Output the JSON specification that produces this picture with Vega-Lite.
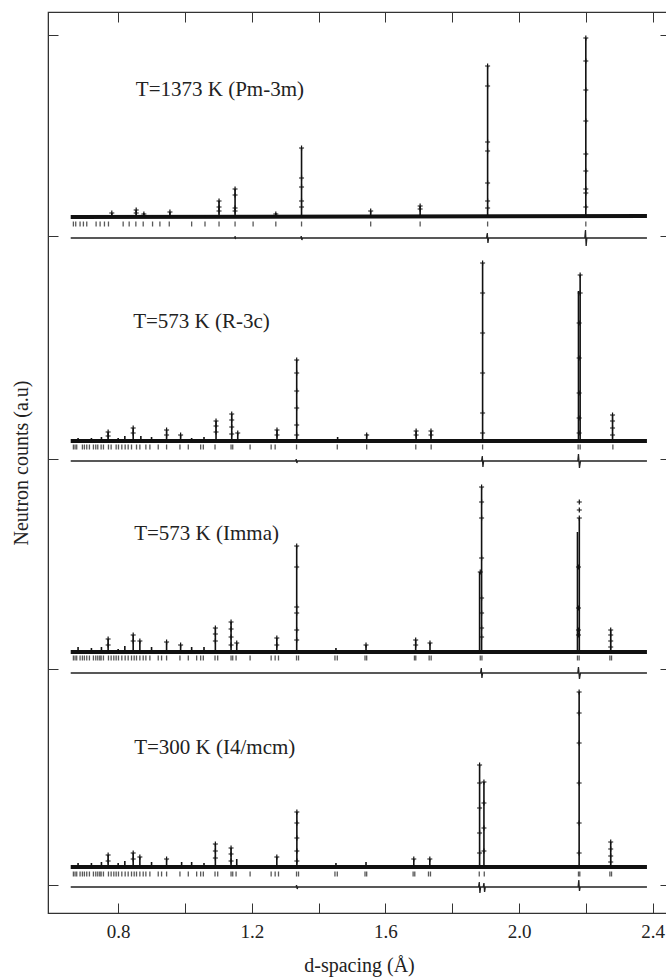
{
  "$schema": "https://vega.github.io/schema/vega-lite/v6.json",
  "autosize": {"type": "none"},
  "padding": {"left": 48, "top": 12, "right": 0, "bottom": 64},
  "width": 622,
  "height": 901,
  "config": {
    "view": {"stroke": "#333", "strokeWidth": 1.2},
    "axis": {"labelFont": "Liberation Serif", "titleFont": "Liberation Serif", "labelColor": "#222", "titleColor": "#222", "domainColor": "#333", "tickColor": "#333", "titleFontWeight": "normal", "grid": false, "labelFontSize": 19, "titleFontSize": 20}
  },
  "datasets": {
    "band": [
      {"p": 1, "d": 0.658, "y": 696}, {"p": 1, "d": 2.383, "y": 697},
      {"p": 2, "d": 0.658, "y": 472}, {"p": 2, "d": 2.383, "y": 472},
      {"p": 3, "d": 0.658, "y": 261}, {"p": 3, "d": 2.383, "y": 261},
      {"p": 4, "d": 0.658, "y": 46}, {"p": 4, "d": 2.383, "y": 46}
    ],
    "peaks": [
      {"d": 0.67, "y": 696, "y2": 698}, {"d": 0.71, "y": 696, "y2": 698}, {"d": 0.74, "y": 696, "y2": 698}, {"d": 0.781, "y": 696, "y2": 700}, {"d": 0.80, "y": 696, "y2": 698}, {"d": 0.83, "y": 696, "y2": 698}, {"d": 0.854, "y": 696, "y2": 703}, {"d": 0.877, "y": 696, "y2": 700}, {"d": 0.905, "y": 696, "y2": 698}, {"d": 0.955, "y": 696, "y2": 701}, {"d": 1.02, "y": 696, "y2": 698}, {"d": 1.06, "y": 696, "y2": 698}, {"d": 1.102, "y": 696, "y2": 712}, {"d": 1.150, "y": 696, "y2": 724}, {"d": 1.205, "y": 696, "y2": 698}, {"d": 1.272, "y": 696, "y2": 700}, {"d": 1.349, "y": 696, "y2": 765}, {"d": 1.556, "y": 696, "y2": 702}, {"d": 1.704, "y": 696, "y2": 707}, {"d": 1.906, "y": 696, "y2": 847}, {"d": 2.200, "y": 696, "y2": 875},
      {"d": 0.68, "y": 472, "y2": 475}, {"d": 0.72, "y": 472, "y2": 475}, {"d": 0.75, "y": 472, "y2": 476}, {"d": 0.770, "y": 472, "y2": 481}, {"d": 0.80, "y": 472, "y2": 475}, {"d": 0.82, "y": 472, "y2": 477}, {"d": 0.845, "y": 472, "y2": 485}, {"d": 0.868, "y": 472, "y2": 477}, {"d": 0.90, "y": 472, "y2": 476}, {"d": 0.945, "y": 472, "y2": 483}, {"d": 0.987, "y": 472, "y2": 478}, {"d": 1.02, "y": 472, "y2": 475}, {"d": 1.057, "y": 472, "y2": 476}, {"d": 1.093, "y": 472, "y2": 492}, {"d": 1.140, "y": 472, "y2": 499}, {"d": 1.158, "y": 472, "y2": 480}, {"d": 1.2755, "y": 472, "y2": 483}, {"d": 1.3345, "y": 472, "y2": 553}, {"d": 1.457, "y": 472, "y2": 476}, {"d": 1.544, "y": 472, "y2": 479}, {"d": 1.692, "y": 472, "y2": 482}, {"d": 1.7365, "y": 472, "y2": 482}, {"d": 1.891, "y": 472, "y2": 650}, {"d": 2.178, "y": 472, "y2": 622}, {"d": 2.183, "y": 472, "y2": 638}, {"d": 2.280, "y": 472, "y2": 498},
      {"d": 0.68, "y": 261, "y2": 266}, {"d": 0.72, "y": 261, "y2": 265}, {"d": 0.75, "y": 261, "y2": 266}, {"d": 0.770, "y": 261, "y2": 274}, {"d": 0.80, "y": 261, "y2": 264}, {"d": 0.82, "y": 261, "y2": 267}, {"d": 0.845, "y": 261, "y2": 278}, {"d": 0.865, "y": 261, "y2": 272}, {"d": 0.90, "y": 261, "y2": 266}, {"d": 0.945, "y": 261, "y2": 271}, {"d": 0.987, "y": 261, "y2": 268}, {"d": 1.02, "y": 261, "y2": 266}, {"d": 1.057, "y": 261, "y2": 266}, {"d": 1.091, "y": 261, "y2": 285}, {"d": 1.138, "y": 261, "y2": 291}, {"d": 1.155, "y": 261, "y2": 270}, {"d": 1.275, "y": 261, "y2": 275}, {"d": 1.3345, "y": 261, "y2": 367}, {"d": 1.452, "y": 261, "y2": 265}, {"d": 1.542, "y": 261, "y2": 268}, {"d": 1.6907, "y": 261, "y2": 273}, {"d": 1.7335, "y": 261, "y2": 270}, {"d": 1.882, "y": 261, "y2": 341}, {"d": 1.888, "y": 261, "y2": 426}, {"d": 2.175, "y": 261, "y2": 381}, {"d": 2.1805, "y": 261, "y2": 395}, {"d": 2.2745, "y": 261, "y2": 283},
      {"d": 0.68, "y": 46, "y2": 50}, {"d": 0.72, "y": 46, "y2": 50}, {"d": 0.75, "y": 46, "y2": 51}, {"d": 0.77, "y": 46, "y2": 58}, {"d": 0.80, "y": 46, "y2": 50}, {"d": 0.82, "y": 46, "y2": 52}, {"d": 0.845, "y": 46, "y2": 60}, {"d": 0.865, "y": 46, "y2": 56}, {"d": 0.90, "y": 46, "y2": 51}, {"d": 0.945, "y": 46, "y2": 54}, {"d": 0.99, "y": 46, "y2": 51}, {"d": 1.02, "y": 46, "y2": 51}, {"d": 1.057, "y": 46, "y2": 50}, {"d": 1.091, "y": 46, "y2": 69}, {"d": 1.138, "y": 46, "y2": 65}, {"d": 1.155, "y": 46, "y2": 54}, {"d": 1.275, "y": 46, "y2": 56}, {"d": 1.335, "y": 46, "y2": 101}, {"d": 1.452, "y": 46, "y2": 50}, {"d": 1.542, "y": 46, "y2": 51}, {"d": 1.685, "y": 46, "y2": 54}, {"d": 1.733, "y": 46, "y2": 54}, {"d": 1.882, "y": 46, "y2": 148}, {"d": 1.895, "y": 46, "y2": 131}, {"d": 2.180, "y": 46, "y2": 221}, {"d": 2.2745, "y": 46, "y2": 71}
    ],
    "obs": [
      {"d": 0.781, "y": 700}, {"d": 0.854, "y": 703}, {"d": 0.854, "y": 700}, {"d": 0.877, "y": 699}, {"d": 0.955, "y": 701}, {"d": 1.102, "y": 712}, {"d": 1.102, "y": 706}, {"d": 1.102, "y": 702}, {"d": 1.150, "y": 724}, {"d": 1.150, "y": 718}, {"d": 1.150, "y": 705}, {"d": 1.150, "y": 702}, {"d": 1.272, "y": 699}, {"d": 1.349, "y": 765}, {"d": 1.349, "y": 735}, {"d": 1.349, "y": 726}, {"d": 1.349, "y": 712}, {"d": 1.349, "y": 706}, {"d": 1.556, "y": 702}, {"d": 1.704, "y": 707}, {"d": 1.704, "y": 704}, {"d": 1.906, "y": 847}, {"d": 1.906, "y": 827}, {"d": 1.906, "y": 771}, {"d": 1.906, "y": 762}, {"d": 1.906, "y": 730}, {"d": 1.906, "y": 712}, {"d": 1.906, "y": 705}, {"d": 2.200, "y": 875}, {"d": 2.200, "y": 852}, {"d": 2.200, "y": 823}, {"d": 2.200, "y": 792}, {"d": 2.200, "y": 759}, {"d": 2.200, "y": 742}, {"d": 2.200, "y": 724}, {"d": 2.200, "y": 720}, {"d": 2.200, "y": 706},
      {"d": 0.770, "y": 481}, {"d": 0.770, "y": 477}, {"d": 0.845, "y": 485}, {"d": 0.845, "y": 480}, {"d": 0.945, "y": 483}, {"d": 0.945, "y": 478}, {"d": 0.987, "y": 478}, {"d": 1.093, "y": 492}, {"d": 1.093, "y": 487}, {"d": 1.093, "y": 481}, {"d": 1.140, "y": 499}, {"d": 1.140, "y": 493}, {"d": 1.140, "y": 486}, {"d": 1.140, "y": 479}, {"d": 1.158, "y": 480}, {"d": 1.2755, "y": 483}, {"d": 1.2755, "y": 478}, {"d": 1.3345, "y": 553}, {"d": 1.3345, "y": 540}, {"d": 1.3345, "y": 522}, {"d": 1.3345, "y": 505}, {"d": 1.3345, "y": 488}, {"d": 1.3345, "y": 478}, {"d": 1.544, "y": 478}, {"d": 1.692, "y": 482}, {"d": 1.692, "y": 478}, {"d": 1.7365, "y": 482}, {"d": 1.7365, "y": 478}, {"d": 1.891, "y": 650}, {"d": 1.891, "y": 620}, {"d": 1.891, "y": 580}, {"d": 1.891, "y": 540}, {"d": 1.891, "y": 500}, {"d": 1.891, "y": 480}, {"d": 2.183, "y": 638}, {"d": 2.183, "y": 620}, {"d": 2.180, "y": 590}, {"d": 2.180, "y": 555}, {"d": 2.180, "y": 520}, {"d": 2.180, "y": 495}, {"d": 2.180, "y": 480}, {"d": 2.280, "y": 498}, {"d": 2.280, "y": 492}, {"d": 2.280, "y": 485}, {"d": 2.280, "y": 478},
      {"d": 0.770, "y": 274}, {"d": 0.770, "y": 268}, {"d": 0.845, "y": 278}, {"d": 0.845, "y": 272}, {"d": 0.865, "y": 272}, {"d": 0.945, "y": 271}, {"d": 0.987, "y": 268}, {"d": 1.091, "y": 285}, {"d": 1.091, "y": 279}, {"d": 1.091, "y": 272}, {"d": 1.138, "y": 291}, {"d": 1.138, "y": 284}, {"d": 1.138, "y": 276}, {"d": 1.138, "y": 268}, {"d": 1.155, "y": 270}, {"d": 1.275, "y": 275}, {"d": 1.275, "y": 268}, {"d": 1.3345, "y": 367}, {"d": 1.3345, "y": 346}, {"d": 1.3345, "y": 306}, {"d": 1.3345, "y": 300}, {"d": 1.3345, "y": 283}, {"d": 1.3345, "y": 273}, {"d": 1.542, "y": 268}, {"d": 1.6907, "y": 273}, {"d": 1.6907, "y": 268}, {"d": 1.7335, "y": 270}, {"d": 1.888, "y": 426}, {"d": 1.888, "y": 411}, {"d": 1.888, "y": 395}, {"d": 1.888, "y": 355}, {"d": 1.884, "y": 341}, {"d": 1.888, "y": 315}, {"d": 1.888, "y": 300}, {"d": 1.888, "y": 285}, {"d": 1.888, "y": 276}, {"d": 2.1805, "y": 411}, {"d": 2.1805, "y": 403}, {"d": 2.1805, "y": 395}, {"d": 2.178, "y": 346}, {"d": 2.178, "y": 305}, {"d": 2.178, "y": 283}, {"d": 2.178, "y": 278}, {"d": 2.2745, "y": 283}, {"d": 2.2745, "y": 278}, {"d": 2.2745, "y": 272}, {"d": 2.2745, "y": 266},
      {"d": 0.77, "y": 58}, {"d": 0.77, "y": 52}, {"d": 0.845, "y": 60}, {"d": 0.845, "y": 54}, {"d": 0.865, "y": 56}, {"d": 0.945, "y": 54}, {"d": 1.091, "y": 69}, {"d": 1.091, "y": 62}, {"d": 1.091, "y": 55}, {"d": 1.138, "y": 65}, {"d": 1.138, "y": 59}, {"d": 1.138, "y": 52}, {"d": 1.275, "y": 56}, {"d": 1.335, "y": 101}, {"d": 1.335, "y": 90}, {"d": 1.335, "y": 75}, {"d": 1.335, "y": 62}, {"d": 1.335, "y": 52}, {"d": 1.685, "y": 54}, {"d": 1.733, "y": 54}, {"d": 1.882, "y": 148}, {"d": 1.882, "y": 130}, {"d": 1.882, "y": 105}, {"d": 1.882, "y": 80}, {"d": 1.882, "y": 60}, {"d": 1.895, "y": 131}, {"d": 1.895, "y": 110}, {"d": 1.895, "y": 85}, {"d": 1.895, "y": 62}, {"d": 2.180, "y": 221}, {"d": 2.180, "y": 200}, {"d": 2.180, "y": 170}, {"d": 2.180, "y": 130}, {"d": 2.180, "y": 90}, {"d": 2.180, "y": 60}, {"d": 2.2745, "y": 71}, {"d": 2.2745, "y": 64}, {"d": 2.2745, "y": 57}, {"d": 2.2745, "y": 51}
    ],
    "refl": [
      {"d": 0.666, "y": 689}, {"d": 0.673, "y": 689}, {"d": 0.686, "y": 689}, {"d": 0.696, "y": 689}, {"d": 0.706, "y": 689}, {"d": 0.734, "y": 689}, {"d": 0.746, "y": 689}, {"d": 0.759, "y": 689}, {"d": 0.771, "y": 689}, {"d": 0.815, "y": 689}, {"d": 0.833, "y": 689}, {"d": 0.853, "y": 689}, {"d": 0.875, "y": 689}, {"d": 0.903, "y": 689}, {"d": 0.925, "y": 689}, {"d": 0.953, "y": 689}, {"d": 1.020, "y": 689}, {"d": 1.060, "y": 689}, {"d": 1.102, "y": 689}, {"d": 1.150, "y": 689}, {"d": 1.204, "y": 689}, {"d": 1.272, "y": 689}, {"d": 1.349, "y": 689}, {"d": 1.556, "y": 689}, {"d": 1.704, "y": 689}, {"d": 1.906, "y": 689}, {"d": 2.200, "y": 689},
      {"d": 0.666, "y": 466}, {"d": 0.671, "y": 466}, {"d": 0.676, "y": 466}, {"d": 0.693, "y": 466}, {"d": 0.699, "y": 466}, {"d": 0.706, "y": 466}, {"d": 0.714, "y": 466}, {"d": 0.726, "y": 466}, {"d": 0.733, "y": 466}, {"d": 0.739, "y": 466}, {"d": 0.749, "y": 466}, {"d": 0.756, "y": 466}, {"d": 0.771, "y": 466}, {"d": 0.779, "y": 466}, {"d": 0.794, "y": 466}, {"d": 0.801, "y": 466}, {"d": 0.811, "y": 466}, {"d": 0.821, "y": 466}, {"d": 0.830, "y": 466}, {"d": 0.840, "y": 466}, {"d": 0.855, "y": 466}, {"d": 0.865, "y": 466}, {"d": 0.883, "y": 466}, {"d": 0.895, "y": 466}, {"d": 0.920, "y": 466}, {"d": 0.945, "y": 466}, {"d": 0.985, "y": 466}, {"d": 1.010, "y": 466}, {"d": 1.047, "y": 466}, {"d": 1.055, "y": 466}, {"d": 1.090, "y": 466}, {"d": 1.138, "y": 466}, {"d": 1.143, "y": 466}, {"d": 1.195, "y": 466}, {"d": 1.258, "y": 466}, {"d": 1.270, "y": 466}, {"d": 1.334, "y": 466}, {"d": 1.456, "y": 466}, {"d": 1.544, "y": 466}, {"d": 1.691, "y": 466}, {"d": 1.737, "y": 466}, {"d": 1.891, "y": 466}, {"d": 2.177, "y": 466}, {"d": 2.183, "y": 466}, {"d": 2.281, "y": 466},
      {"d": 0.666, "y": 255}, {"d": 0.671, "y": 255}, {"d": 0.676, "y": 255}, {"d": 0.686, "y": 255}, {"d": 0.693, "y": 255}, {"d": 0.699, "y": 255}, {"d": 0.706, "y": 255}, {"d": 0.714, "y": 255}, {"d": 0.726, "y": 255}, {"d": 0.733, "y": 255}, {"d": 0.739, "y": 255}, {"d": 0.745, "y": 255}, {"d": 0.749, "y": 255}, {"d": 0.756, "y": 255}, {"d": 0.771, "y": 255}, {"d": 0.779, "y": 255}, {"d": 0.787, "y": 255}, {"d": 0.794, "y": 255}, {"d": 0.801, "y": 255}, {"d": 0.811, "y": 255}, {"d": 0.821, "y": 255}, {"d": 0.830, "y": 255}, {"d": 0.840, "y": 255}, {"d": 0.848, "y": 255}, {"d": 0.855, "y": 255}, {"d": 0.865, "y": 255}, {"d": 0.875, "y": 255}, {"d": 0.883, "y": 255}, {"d": 0.895, "y": 255}, {"d": 0.920, "y": 255}, {"d": 0.930, "y": 255}, {"d": 0.945, "y": 255}, {"d": 0.985, "y": 255}, {"d": 1.010, "y": 255}, {"d": 1.035, "y": 255}, {"d": 1.047, "y": 255}, {"d": 1.055, "y": 255}, {"d": 1.090, "y": 255}, {"d": 1.098, "y": 255}, {"d": 1.138, "y": 255}, {"d": 1.143, "y": 255}, {"d": 1.153, "y": 255}, {"d": 1.195, "y": 255}, {"d": 1.258, "y": 255}, {"d": 1.270, "y": 255}, {"d": 1.280, "y": 255}, {"d": 1.334, "y": 255}, {"d": 1.340, "y": 255}, {"d": 1.449, "y": 255}, {"d": 1.456, "y": 255}, {"d": 1.539, "y": 255}, {"d": 1.544, "y": 255}, {"d": 1.687, "y": 255}, {"d": 1.691, "y": 255}, {"d": 1.731, "y": 255}, {"d": 1.737, "y": 255}, {"d": 1.884, "y": 255}, {"d": 1.889, "y": 255}, {"d": 2.175, "y": 255}, {"d": 2.180, "y": 255}, {"d": 2.272, "y": 255}, {"d": 2.277, "y": 255},
      {"d": 0.666, "y": 39}, {"d": 0.671, "y": 39}, {"d": 0.676, "y": 39}, {"d": 0.686, "y": 39}, {"d": 0.693, "y": 39}, {"d": 0.699, "y": 39}, {"d": 0.706, "y": 39}, {"d": 0.714, "y": 39}, {"d": 0.726, "y": 39}, {"d": 0.733, "y": 39}, {"d": 0.739, "y": 39}, {"d": 0.745, "y": 39}, {"d": 0.749, "y": 39}, {"d": 0.756, "y": 39}, {"d": 0.771, "y": 39}, {"d": 0.779, "y": 39}, {"d": 0.787, "y": 39}, {"d": 0.794, "y": 39}, {"d": 0.801, "y": 39}, {"d": 0.811, "y": 39}, {"d": 0.821, "y": 39}, {"d": 0.830, "y": 39}, {"d": 0.840, "y": 39}, {"d": 0.848, "y": 39}, {"d": 0.855, "y": 39}, {"d": 0.865, "y": 39}, {"d": 0.875, "y": 39}, {"d": 0.883, "y": 39}, {"d": 0.895, "y": 39}, {"d": 0.920, "y": 39}, {"d": 0.930, "y": 39}, {"d": 0.945, "y": 39}, {"d": 0.985, "y": 39}, {"d": 1.010, "y": 39}, {"d": 1.035, "y": 39}, {"d": 1.047, "y": 39}, {"d": 1.055, "y": 39}, {"d": 1.090, "y": 39}, {"d": 1.098, "y": 39}, {"d": 1.138, "y": 39}, {"d": 1.143, "y": 39}, {"d": 1.153, "y": 39}, {"d": 1.195, "y": 39}, {"d": 1.258, "y": 39}, {"d": 1.270, "y": 39}, {"d": 1.280, "y": 39}, {"d": 1.334, "y": 39}, {"d": 1.340, "y": 39}, {"d": 1.449, "y": 39}, {"d": 1.456, "y": 39}, {"d": 1.539, "y": 39}, {"d": 1.544, "y": 39}, {"d": 1.683, "y": 39}, {"d": 1.688, "y": 39}, {"d": 1.729, "y": 39}, {"d": 1.735, "y": 39}, {"d": 1.881, "y": 39}, {"d": 1.896, "y": 39}, {"d": 2.178, "y": 39}, {"d": 2.182, "y": 39}, {"d": 2.272, "y": 39}, {"d": 2.277, "y": 39}
    ],
    "diff": [
      {"p": 1, "d": 0.658, "y": 675}, {"p": 1, "d": 1.149, "y": 675}, {"p": 1, "d": 1.150, "y": 677}, {"p": 1, "d": 1.151, "y": 674}, {"p": 1, "d": 1.152, "y": 675}, {"p": 1, "d": 1.347, "y": 675}, {"p": 1, "d": 1.348, "y": 677}, {"p": 1, "d": 1.350, "y": 673}, {"p": 1, "d": 1.352, "y": 675}, {"p": 1, "d": 1.903, "y": 675}, {"p": 1, "d": 1.905, "y": 680}, {"p": 1, "d": 1.907, "y": 670}, {"p": 1, "d": 1.909, "y": 675}, {"p": 1, "d": 2.197, "y": 675}, {"p": 1, "d": 2.199, "y": 683}, {"p": 1, "d": 2.201, "y": 667}, {"p": 1, "d": 2.203, "y": 675}, {"p": 1, "d": 2.383, "y": 675},
      {"p": 2, "d": 0.658, "y": 452}, {"p": 2, "d": 1.332, "y": 452}, {"p": 2, "d": 1.333, "y": 454}, {"p": 2, "d": 1.335, "y": 450}, {"p": 2, "d": 1.337, "y": 452}, {"p": 2, "d": 1.888, "y": 452}, {"p": 2, "d": 1.890, "y": 457}, {"p": 2, "d": 1.892, "y": 446}, {"p": 2, "d": 1.894, "y": 452}, {"p": 2, "d": 2.176, "y": 452}, {"p": 2, "d": 2.178, "y": 459}, {"p": 2, "d": 2.181, "y": 445}, {"p": 2, "d": 2.184, "y": 452}, {"p": 2, "d": 2.383, "y": 452},
      {"p": 3, "d": 0.658, "y": 240}, {"p": 3, "d": 1.885, "y": 240}, {"p": 3, "d": 1.887, "y": 245}, {"p": 3, "d": 1.889, "y": 235}, {"p": 3, "d": 1.891, "y": 240}, {"p": 3, "d": 2.176, "y": 240}, {"p": 3, "d": 2.178, "y": 246}, {"p": 3, "d": 2.181, "y": 234}, {"p": 3, "d": 2.184, "y": 240}, {"p": 3, "d": 2.383, "y": 240},
      {"p": 4, "d": 0.658, "y": 26}, {"p": 4, "d": 1.333, "y": 26}, {"p": 4, "d": 1.334, "y": 28}, {"p": 4, "d": 1.336, "y": 24}, {"p": 4, "d": 1.338, "y": 26}, {"p": 4, "d": 1.879, "y": 26}, {"p": 4, "d": 1.881, "y": 31}, {"p": 4, "d": 1.883, "y": 20}, {"p": 4, "d": 1.885, "y": 26}, {"p": 4, "d": 1.893, "y": 26}, {"p": 4, "d": 1.895, "y": 30}, {"p": 4, "d": 1.897, "y": 21}, {"p": 4, "d": 1.899, "y": 26}, {"p": 4, "d": 2.177, "y": 26}, {"p": 4, "d": 2.179, "y": 33}, {"p": 4, "d": 2.181, "y": 22}, {"p": 4, "d": 2.183, "y": 26}, {"p": 4, "d": 2.383, "y": 26}
    ],
    "labels": [
      {"t": "T=1373 K (Pm-3m)", "d": 0.853, "y": 823},
      {"t": "T=573 K (R-3c)", "d": 0.845, "y": 591},
      {"t": "T=573 K (Imma)", "d": 0.848, "y": 379},
      {"t": "T=300 K (I4/mcm)", "d": 0.848, "y": 165}
    ]
  },
  "layer": [
    {
      "data": {"name": "band"},
      "mark": {"type": "line", "color": "#111", "strokeWidth": 4},
      "encoding": {
        "x": {"field": "d", "type": "quantitative", "scale": {"domain": [0.59, 2.452], "nice": false, "zero": false},
          "axis": {"orient": "bottom", "values": [0.8, 1.0, 1.2, 1.4, 1.6, 1.8, 2.0, 2.2, 2.4], "tickSize": -10, "labelPadding": 19, "labelExpr": "round(datum.value*10)%4==0 ? format(datum.value,'.1f') : ''", "title": "d-spacing (Å)", "titlePadding": 14}},
        "y": {"field": "y", "type": "quantitative", "scale": {"domain": [0, 901], "nice": false, "zero": false},
          "axis": {"orient": "left", "values": [28, 244, 454, 677, 878], "tickSize": -10, "labels": false, "title": "Neutron counts (a.u)", "titlePadding": 16}},
        "detail": {"field": "p"}
      }
    },
    {
      "data": {"name": "peaks"},
      "mark": {"type": "rule", "color": "#111", "strokeWidth": 1.6},
      "encoding": {
        "x": {"field": "d", "type": "quantitative",
          "axis": {"orient": "top", "values": [0.8, 1.0, 1.2, 1.4, 1.6, 1.8, 2.0, 2.2, 2.4], "tickSize": -10, "labels": false, "title": null}},
        "y": {"field": "y", "type": "quantitative",
          "axis": {"orient": "right", "values": [28, 244, 454, 677, 878], "tickSize": -10, "labels": false, "title": null}},
        "y2": {"field": "y2"}
      }
    },
    {
      "data": {"name": "obs"},
      "mark": {"type": "point", "shape": "M-1,0L1,0M0,-1L0,1", "filled": false, "color": "#111", "strokeWidth": 1.2, "size": 25, "opacity": 1},
      "encoding": {
        "x": {"field": "d", "type": "quantitative", "axis": null},
        "y": {"field": "y", "type": "quantitative", "axis": null}
      }
    },
    {
      "data": {"name": "refl"},
      "mark": {"type": "tick", "orient": "vertical", "size": 5, "thickness": 1.3, "color": "#111"},
      "encoding": {
        "x": {"field": "d", "type": "quantitative", "axis": null},
        "y": {"field": "y", "type": "quantitative", "axis": null}
      }
    },
    {
      "data": {"name": "diff"},
      "mark": {"type": "line", "color": "#222", "strokeWidth": 1.3},
      "encoding": {
        "x": {"field": "d", "type": "quantitative", "axis": null},
        "y": {"field": "y", "type": "quantitative", "axis": null},
        "detail": {"field": "p"}
      }
    },
    {
      "data": {"name": "labels"},
      "mark": {"type": "text", "align": "left", "baseline": "middle", "font": "Liberation Serif", "fontSize": 21, "color": "#222"},
      "encoding": {
        "x": {"field": "d", "type": "quantitative", "axis": null},
        "y": {"field": "y", "type": "quantitative", "axis": null},
        "text": {"field": "t"}
      }
    }
  ],
  "resolve": {"axis": {"x": "independent", "y": "independent"}}
}
